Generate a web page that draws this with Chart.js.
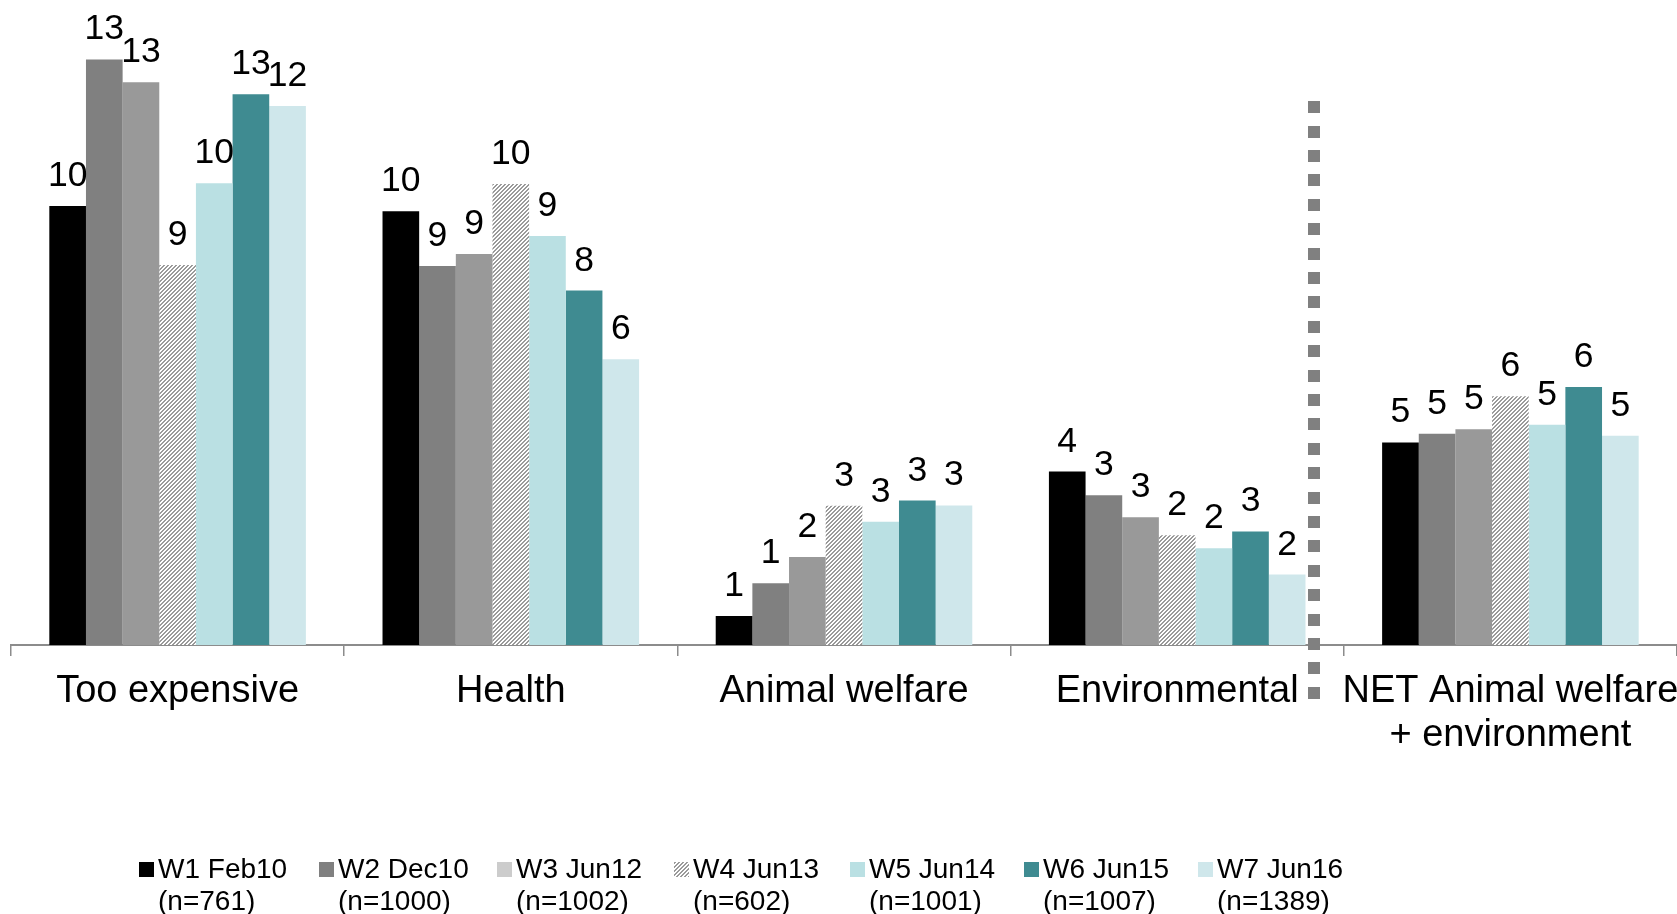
<!DOCTYPE html>
<html><head><meta charset="utf-8">
<script src="https://cdn.jsdelivr.net/npm/chart.js@4.4.1/dist/chart.umd.min.js"></script>
<style>html,body{margin:0;padding:0;background:#fff;overflow:hidden}#wrap{width:1677px;height:914px}</style>
</head><body><div id="wrap"><canvas id="c" width="1677" height="914"></canvas></div>
<script>
// ---- data ----
const categories = [["Too expensive"], ["Health"], ["Animal welfare"], ["Environmental"], ["NET Animal welfare", "+ environment"]];
const seriesNames = ["W1 Feb10", "W2 Dec10", "W3 Jun12", "W4 Jun13", "W5 Jun14", "W6 Jun15", "W7 Jun16"];
const sampleSizes = ["(n=761)", "(n=1000)", "(n=1002)", "(n=602)", "(n=1001)", "(n=1007)", "(n=1389)"];
const w1 = [9.97, 9.85, 0.66, 3.94, 4.60];
const w2 = [13.30, 8.61, 1.40, 3.40, 4.80];
const w3 = [12.78, 8.88, 2.00, 2.90, 4.90];
const w4 = [8.63, 10.47, 3.16, 2.49, 5.65];
const w5 = [10.49, 9.29, 2.80, 2.20, 5.00];
const w6 = [12.51, 8.05, 3.28, 2.58, 5.86];
const w7 = [12.24, 6.49, 3.17, 1.60, 4.75];
const seriesValues = [w1, w2, w3, w4, w5, w6, w7];

// ---- styles ----
const FONT = '"Liberation Sans", Arial, sans-serif';
const canvas = document.getElementById('c');
const ctx = canvas.getContext('2d');
function makeHatch() {
  const t = document.createElement('canvas');
  t.width = 8; t.height = 8;
  const g = t.getContext('2d');
  g.fillStyle = '#ffffff'; g.fillRect(0, 0, 8, 8);
  g.fillStyle = '#9a9a9a';
  for (let y = 0; y < 8; y++) for (let x = 0; x < 8; x++) if (((x + y) % 4) < 2) g.fillRect(x, y, 1, 1);
  return ctx.createPattern(t, 'repeat');
}
const hatch = makeHatch();
const barColors = ['#000000', '#808080', '#999999', hatch, '#bae0e3', '#3f8b91', '#cfe7eb'];
const legendColors = ['#000000', '#808080', '#cccccc', hatch, '#bae0e3', '#3f8b91', '#cfe7eb'];
const legendX = [139, 319, 497, 674, 850, 1024, 1198];

const valueLabels = {
  id: 'valueLabels',
  afterDatasetsDraw(chart) {
    const c = chart.ctx;
    c.save();
    c.font = '35.5px ' + FONT;
    c.fillStyle = '#000';
    c.textAlign = 'center';
    c.textBaseline = 'alphabetic';
    chart.data.datasets.forEach((ds, i) => {
      chart.getDatasetMeta(i).data.forEach((el, j) => {
        c.fillText(String(Math.round(ds.data[j])), el.x, el.y - 20);
      });
    });
    c.restore();
  }
};

const separator = {
  id: 'separator',
  afterDraw(chart) {
    const c = chart.ctx, xs = chart.scales.x, ys = chart.scales.y;
    const step = xs.getPixelForValue(4) - xs.getPixelForValue(3);
    const cx = xs.getPixelForValue(3) + 0.41 * step;
    const top = ys.getPixelForValue(12.35);
    const end = chart.chartArea.bottom + 57;
    c.save();
    c.fillStyle = '#808080';
    for (let y = top; y + 12 <= end; y += 24.4) c.fillRect(Math.round(cx - 6), Math.round(y), 12, 12);
    c.restore();
  }
};

const legendPlugin = {
  id: 'customLegend',
  afterDraw(chart) {
    const c = chart.ctx;
    c.save();
    c.font = '28px ' + FONT;
    c.textAlign = 'left';
    c.textBaseline = 'alphabetic';
    const base1 = 878, base2 = 910;
    seriesNames.forEach((name, i) => {
      const x = legendX[i];
      c.fillStyle = legendColors[i];
      c.fillRect(x, base1 - 16, 15, 15);
      c.fillStyle = '#000';
      c.fillText(name, x + 19, base1);
      c.fillText(sampleSizes[i], x + 19, base2);
    });
    c.restore();
  }
};

new Chart(ctx, {
  type: 'bar',
  data: {
    labels: categories,
    datasets: seriesNames.map((n, i) => ({
      label: n,
      data: seriesValues[i],
      backgroundColor: barColors[i],
      borderWidth: 0,
      categoryPercentage: 0.77,
      barPercentage: 1.0
    }))
  },
  options: {
    responsive: false,
    animation: false,
    devicePixelRatio: 1,
    layout: { padding: { left: 11, right: 0, top: 0, bottom: 0 } },
    plugins: { legend: { display: false }, tooltip: { enabled: false } },
    scales: {
      x: {
        offset: true,
        grid: { display: true, drawOnChartArea: false, drawTicks: true, tickLength: 11, color: '#8c8c8c', lineWidth: 1.5, offset: true },
        border: { display: true, color: '#8c8c8c', width: 2 },
        ticks: { color: '#000', font: { family: FONT, size: 38, lineHeight: 1.15 }, padding: 14, maxRotation: 0, minRotation: 0, autoSkip: false },
        afterFit(scale) { scale.height = 914 - 645; scale.paddingLeft = 0; scale.paddingRight = 0; }
      },
      y: { display: false, min: 0, max: 14.65 }
    }
  },
  plugins: [valueLabels, separator, legendPlugin]
});
</script>
</body></html>
